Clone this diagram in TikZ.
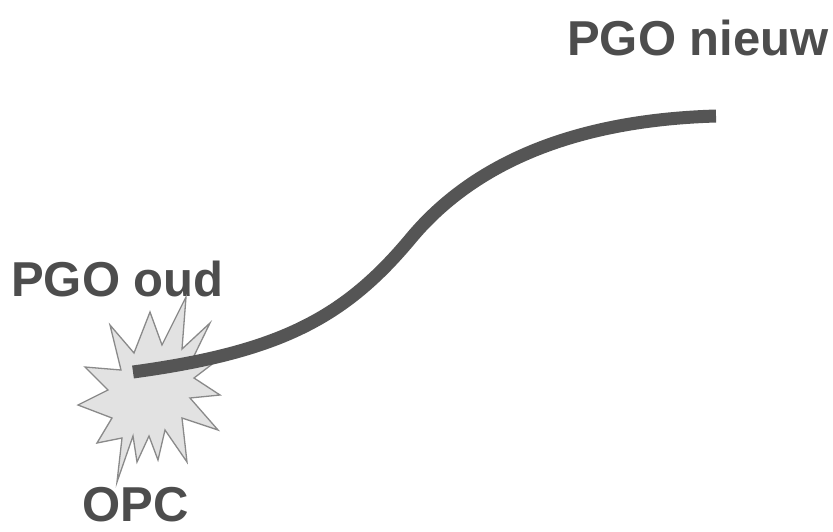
\documentclass[tikz,border=0pt]{standalone}
\usepackage{fontspec}
\setmainfont{Liberation Sans}
\begin{document}
\begin{tikzpicture}[x=1pt,y=-1pt,
  lbl/.style={inner sep=0pt,anchor=base west,text=txtgray,font=\fontsize{49}{58}\selectfont\bfseries},
  burst/.style={fill=burstfill,draw=burstedge,line width=1.3pt,line join=miter},
  curveline/.style={draw=curvegray,line width=13pt,line cap=butt}]
\definecolor{txtgray}{HTML}{4D4D4D}
\definecolor{curvegray}{HTML}{555555}
\definecolor{burstfill}{HTML}{E2E2E2}
\definecolor{burstedge}{HTML}{8A8A8A}
\useasboundingbox[fill=white] (0,0) rectangle (833,531);
% labels
\node[lbl] (nieuw) at (567,55) {PGO nieuw};
\node[lbl] (oud) at (11,296) {PGO oud};
\node[lbl] (opc) at (82,521) {OPC};
% starburst
\draw[burst] (186,297) -- (182,349) -- (210,323) -- (193,358) -- (228,352) --
  (194,378) -- (220,395) -- (190,398) -- (218,430) -- (182,418) -- (187,462) --
  (165,430) -- (158,460) -- (149,436) -- (137,462) -- (133,436) -- (117,482) --
  (122,438) -- (97,443) -- (112,418) -- (78,405) -- (108,390) -- (85,367) --
  (121,370) -- (110,325) -- (134,353) -- (150,312) -- (162,345) -- cycle;
% curve
\coordinate (start) at (133,372);
\coordinate (mid) at (412,237);
\coordinate (end) at (716,116);
\draw[curveline] (start) .. controls (280,352) and (345,318) .. (mid)
  .. controls (477,160) and (580,120) .. (end);
\end{tikzpicture}
\end{document}
